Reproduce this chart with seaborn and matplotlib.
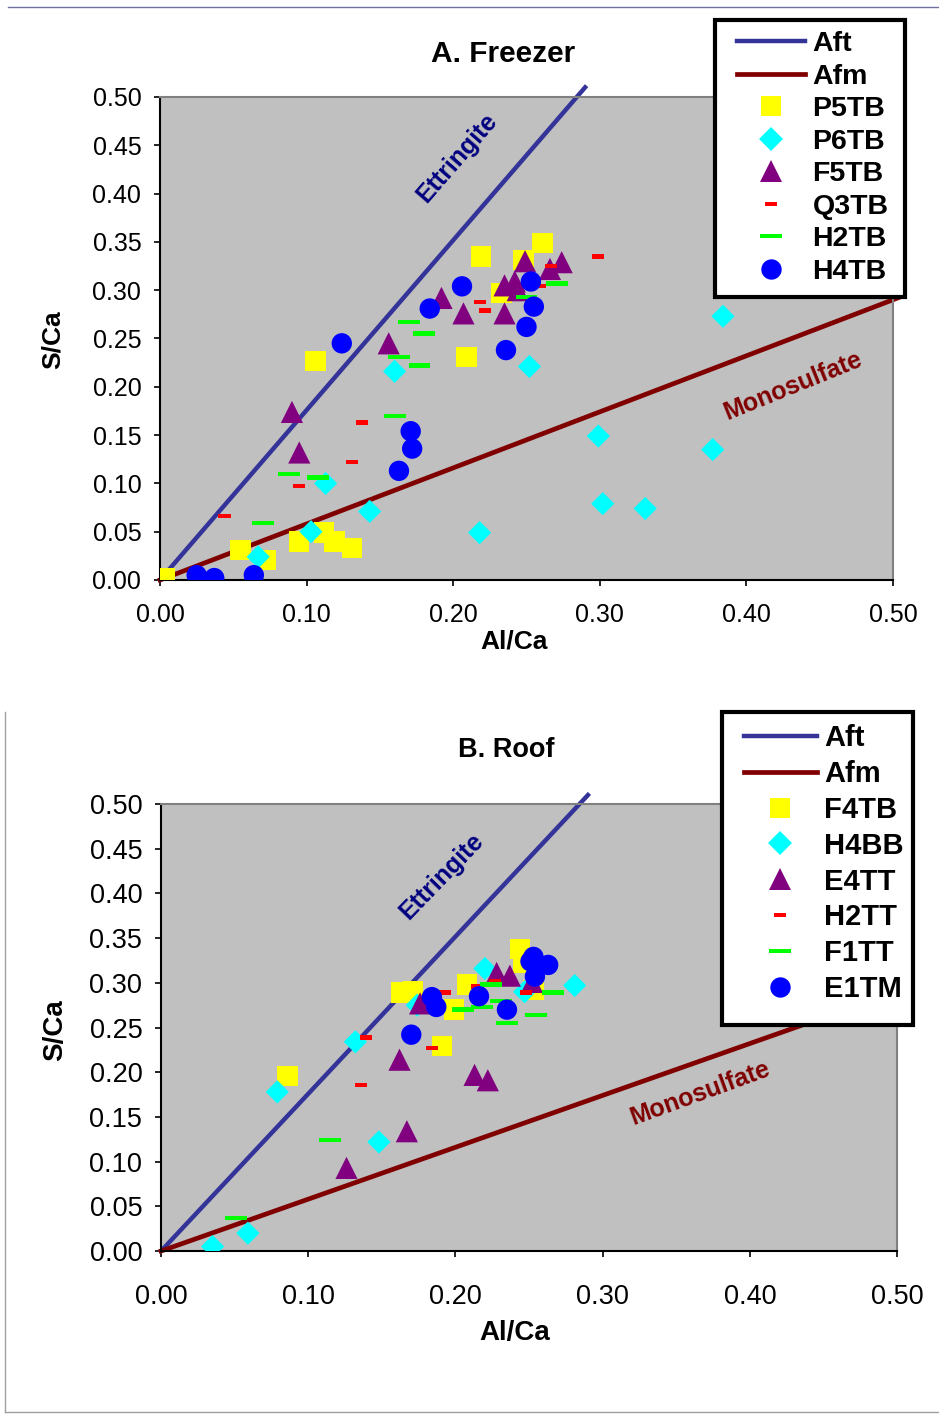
import numpy as np
import matplotlib.pyplot as plt
import seaborn as sns
from matplotlib.lines import Line2D
from matplotlib.patches import Rectangle
from matplotlib.ticker import FormatStrFormatter

plt.rcParams['font.family'] = ['Liberation Sans', 'DejaVu Sans']

# --- reference lines (Al/Ca vs S/Ca) ---
aft_x = [0.0, 0.29]
aft_y = [0.0, 0.51]
afm_x = [0.0, 0.505]
afm_y = [0.0, 0.293]

# --- A. Freezer ---
freezer_names = ["P5TB", "P6TB", "F5TB", "Q3TB", "H2TB", "H4TB"]
p5tb_x = [0.003, 0.055, 0.072, 0.095, 0.112, 0.119, 0.131, 0.106, 0.209, 0.219, 0.248, 0.261, 0.233]
p5tb_y = [0.002, 0.031, 0.021, 0.040, 0.049, 0.040, 0.033, 0.227, 0.231, 0.335, 0.331, 0.349, 0.297]
p6tb_x = [0.067, 0.103, 0.113, 0.143, 0.160, 0.218, 0.252, 0.299, 0.302, 0.331, 0.377, 0.384]
p6tb_y = [0.024, 0.050, 0.100, 0.071, 0.216, 0.049, 0.221, 0.149, 0.079, 0.074, 0.135, 0.273]
f5tb_x = [0.090, 0.095, 0.156, 0.192, 0.207, 0.235, 0.235, 0.242, 0.244, 0.249, 0.266, 0.274]
f5tb_y = [0.174, 0.132, 0.245, 0.292, 0.276, 0.276, 0.305, 0.309, 0.300, 0.330, 0.322, 0.329]
q3tb_x = [0.044, 0.095, 0.131, 0.138, 0.218, 0.222, 0.259, 0.267, 0.299]
q3tb_y = [0.066, 0.097, 0.122, 0.163, 0.288, 0.279, 0.304, 0.325, 0.335]
h2tb_x = [0.070, 0.088, 0.108, 0.160, 0.163, 0.170, 0.177, 0.180, 0.250, 0.271]
h2tb_y = [0.059, 0.110, 0.106, 0.170, 0.231, 0.267, 0.222, 0.255, 0.293, 0.307]
h4tb_x = [0.025, 0.037, 0.064, 0.124, 0.163, 0.171, 0.172, 0.184, 0.206, 0.236, 0.250, 0.255, 0.253]
h4tb_y = [0.005, 0.002, 0.005, 0.245, 0.113, 0.154, 0.136, 0.281, 0.304, 0.238, 0.262, 0.283, 0.309]

# --- B. Roof ---
roof_names = ["F4TB", "H4BB", "E4TT", "H2TT", "F1TT", "E1TM"]
f4tb_x = [0.086, 0.163, 0.171, 0.191, 0.199, 0.208, 0.244, 0.246, 0.253]
f4tb_y = [0.196, 0.289, 0.291, 0.229, 0.270, 0.298, 0.338, 0.322, 0.292]
h4bb_x = [0.035, 0.059, 0.079, 0.132, 0.148, 0.174, 0.220, 0.247, 0.281]
h4bb_y = [0.005, 0.020, 0.178, 0.234, 0.122, 0.275, 0.316, 0.290, 0.297]
e4tt_x = [0.126, 0.162, 0.167, 0.176, 0.213, 0.222, 0.228, 0.237, 0.252]
e4tt_y = [0.093, 0.214, 0.134, 0.277, 0.197, 0.191, 0.311, 0.308, 0.301]
h2tt_x = [0.136, 0.139, 0.184, 0.193, 0.215, 0.227, 0.248]
h2tt_y = [0.186, 0.239, 0.227, 0.289, 0.296, 0.302, 0.289]
f1tt_x = [0.051, 0.115, 0.205, 0.218, 0.224, 0.231, 0.235, 0.255, 0.266]
f1tt_y = [0.037, 0.124, 0.270, 0.273, 0.298, 0.280, 0.255, 0.264, 0.289]
e1tm_x = [0.170, 0.184, 0.187, 0.216, 0.235, 0.251, 0.253, 0.254, 0.263]
e1tm_y = [0.242, 0.284, 0.273, 0.285, 0.270, 0.324, 0.329, 0.307, 0.320]

# marker styles, same order for both panels
red_dash = np.array([(-1, -0.36), (1, -0.36), (1, 0.36), (-1, 0.36)])
green_dash = np.array([(-1, -0.2), (1, -0.2), (1, 0.2), (-1, 0.2)])
colors = ["#FFFF00", "#00FFFF", "#800080", "#FF0000", "#00FF00", "#0000FF"]
markers = ["s", "D", "^", red_dash, green_dash, "o"]
sizes = [215, 140, 255, 75, 250, 215]

fig = plt.figure(figsize=(9.39, 14.16), dpi=100)

# thin page frame lines
fig.add_artist(Line2D([8 / 939, 1], [1 - 7 / 1416] * 2, color="#7070a0", lw=1))
fig.add_artist(Line2D([5 / 939, 5 / 939], [1 - 712 / 1416, 1 - 1412 / 1416], color="#a0a0a0", lw=1))
fig.add_artist(Line2D([5 / 939, 1], [1 - 1412 / 1416] * 2, color="#a0a0a0", lw=1))


def draw_panel(ax, series, tick_size, lab_size):
    ax.set_facecolor("#C0C0C0")
    sns.lineplot(x=aft_x, y=aft_y, color="#333399", linewidth=3.2, ax=ax, clip_on=False, zorder=2)
    sns.lineplot(x=afm_x, y=afm_y, color="#800000", linewidth=3.4, ax=ax, clip_on=False, zorder=2)
    for i, (xs, ys) in enumerate(series):
        sns.scatterplot(x=xs, y=ys, marker=markers[i], s=sizes[i], color=colors[i],
                        edgecolor="none", linewidth=0, ax=ax, zorder=3 + i)
    ax.set_xlim(0, 0.5)
    ax.set_ylim(0, 0.5)
    ax.set_xticks(np.arange(0, 0.51, 0.1))
    ax.set_yticks(np.arange(0, 0.51, 0.05))
    ax.xaxis.set_major_formatter(FormatStrFormatter("%.2f"))
    ax.yaxis.set_major_formatter(FormatStrFormatter("%.2f"))
    ax.tick_params(labelsize=tick_size, length=4.5, width=1.2, direction="out")
    for s in ["left", "bottom"]:
        ax.spines[s].set_color("black")
        ax.spines[s].set_linewidth(1.5)
    for s in ["top", "right"]:
        ax.spines[s].set_color("#808080")
        ax.spines[s].set_linewidth(1.5)
    ax.set_xlabel("Al/Ca", fontsize=lab_size, fontweight="bold")
    ax.set_ylabel("S/Ca", fontsize=lab_size, fontweight="bold")


def draw_legend(names, box, fontsize, spacing, handlelen, top_gap):
    x0, y0, x1, y1 = box
    fig.add_artist(Rectangle((x0 / 939, 1 - y1 / 1416), (x1 - x0) / 939, (y1 - y0) / 1416,
                             transform=fig.transFigure, facecolor="white",
                             edgecolor="black", lw=3, zorder=4))
    handles = [Line2D([0], [0], color="#333399", lw=3.2),
               Line2D([0], [0], color="#800000", lw=3.4)]
    for i in range(6):
        handles.append(Line2D([], [], linestyle="none", marker=markers[i],
                              markersize=np.sqrt(sizes[i]), color=colors[i],
                              markeredgewidth=0))
    leg = fig.legend(handles, ["Aft", "Afm"] + names, loc="upper left",
                     bbox_to_anchor=((x0 + 22) / 939, 1 - (y0 + top_gap) / 1416),
                     frameon=False, borderpad=0, borderaxespad=0,
                     labelspacing=spacing, handlelength=handlelen, handletextpad=0.25,
                     prop={"weight": "bold", "size": fontsize})
    leg.set_zorder(5)


# --- A. Freezer ---
ax1 = fig.add_axes([0.1704, 0.5904, 0.7806, 0.3411])
freezer = [(p5tb_x, p5tb_y), (p6tb_x, p6tb_y), (f5tb_x, f5tb_y),
           (q3tb_x, q3tb_y), (h2tb_x, h2tb_y), (h4tb_x, h4tb_y)]
draw_panel(ax1, freezer, 18, 19)
ax1.tick_params(axis="y", pad=9)
ax1.tick_params(axis="x", pad=12)
ax1.xaxis.set_label_coords(0.483, -0.128)
ax1.xaxis.label.set_verticalalignment("center")
ax1.yaxis.set_label_coords(-0.147, 0.497)
ax1.yaxis.label.set_verticalalignment("center")
ax1.text(0.2026, 0.4369, "Ettringite", color="#000080", fontsize=18, fontweight="bold",
         rotation=49, ha="center", va="center", rotation_mode="anchor")
ax1.text(0.4318, 0.2008, "Monosulfate", color="#800000", fontsize=18, fontweight="bold",
         rotation=22, ha="center", va="center", rotation_mode="anchor")
fig.text(503 / 939, 1 - 54 / 1416, "A. Freezer", fontsize=21.5, fontweight="bold",
         ha="center", va="center")
draw_legend(freezer_names, (715, 20, 905, 297), 20.5, 0.23, 2.4, 11)

# --- B. Roof ---
ax2 = fig.add_axes([0.1715, 0.1165, 0.7838, 0.3157])
roof = [(f4tb_x, f4tb_y), (h4bb_x, h4bb_y), (e4tt_x, e4tt_y),
        (h2tt_x, h2tt_y), (f1tt_x, f1tt_y), (e1tm_x, e1tm_y)]
draw_panel(ax2, roof, 19.5, 20)
ax2.tick_params(axis="y", pad=9)
ax2.tick_params(axis="x", pad=19)
ax2.xaxis.set_label_coords(0.48, -0.183)
ax2.xaxis.label.set_verticalalignment("center")
ax2.yaxis.set_label_coords(-0.144, 0.494)
ax2.yaxis.label.set_verticalalignment("center")
ax2.text(0.1909, 0.4195, "Ettringite", color="#000080", fontsize=18, fontweight="bold",
         rotation=46, ha="center", va="center", rotation_mode="anchor")
ax2.text(0.3662, 0.1767, "Monosulfate", color="#800000", fontsize=18, fontweight="bold",
         rotation=20, ha="center", va="center", rotation_mode="anchor")
fig.text(506 / 939, 1 - 750 / 1416, "B. Roof", fontsize=19.5, fontweight="bold",
         ha="center", va="center")
draw_legend(roof_names, (722, 712, 913, 1025), 21, 0.27, 2.5, 12)

fig.savefig("out.png", dpi=100)
